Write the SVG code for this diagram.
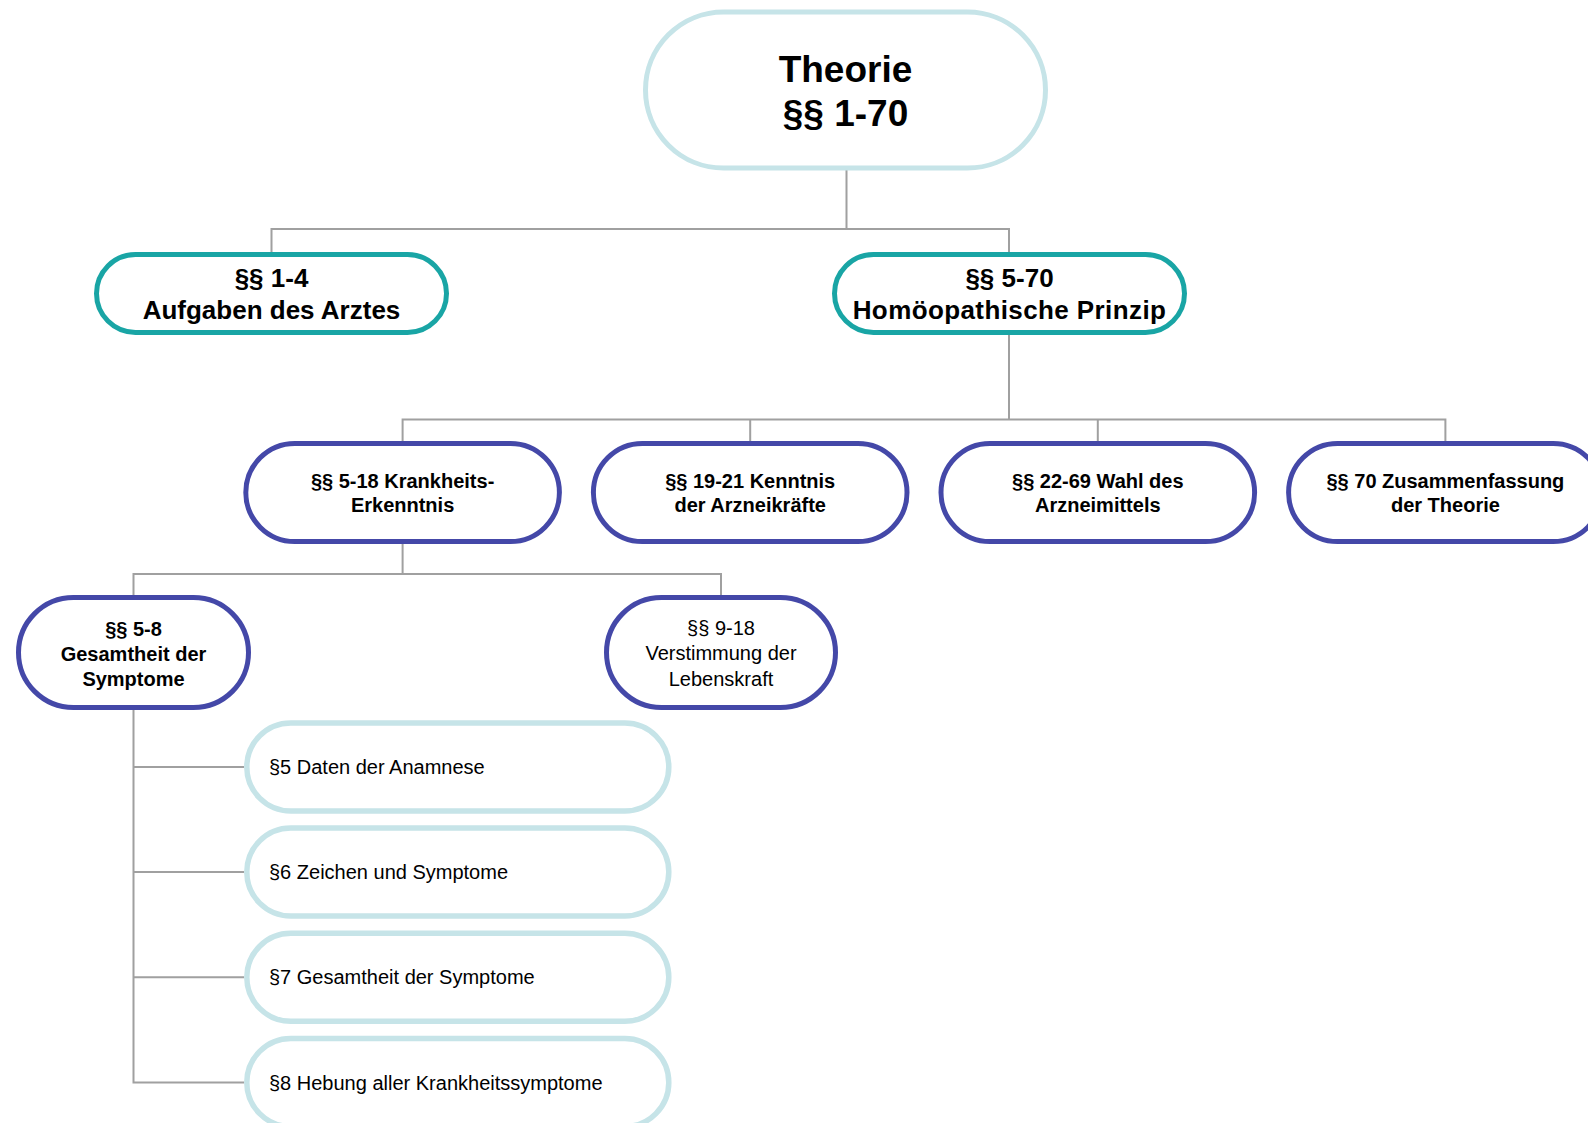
<svg xmlns="http://www.w3.org/2000/svg" width="1588" height="1123" viewBox="0 0 1588 1123">
<style>
text{font-family:"Liberation Sans",Arial,sans-serif;fill:#000;text-anchor:middle}
.b{font-weight:bold}
.root{fill:#fff;stroke:#c6e4e8;stroke-width:5}
.l2{fill:#fff;stroke:#19a5a5;stroke-width:5}
.l3{fill:#fff;stroke:#4448a8;stroke-width:5}
.leaf{fill:#fff;stroke:#c6e4e8;stroke-width:5.5}
.t37{font-size:37px}
.t26{font-size:26px}
.t20{font-size:20px}
.lt{text-anchor:start;font-size:20px}
.c{fill:none;stroke:#a0a0a0;stroke-width:2}
</style>
<rect width="1588" height="1123" fill="#fff"/>
<g id="connectors">
<path class="c" d="M846.5 170V229M271.5 252V229H1009V252"/>
<path class="c" d="M1009 335V419.5M402.6 441V419.5H1445.4V441M750.2 419.5V441M1097.8 419.5V441"/>
<path class="c" d="M402.6 544V574M133.5 595V574H721V595"/>
<path class="c" d="M133.5 710V1082.5H244M133.5 767H244M133.5 872H244M133.5 977.3H244"/>
</g>
<g id="n-root">
<rect class="root" x="645.5" y="12" width="400" height="156" rx="78"/>
<text class="b t37" x="845.5" y="82">Theorie</text>
<text class="b t37" x="845.5" y="125.5">§§ 1-70</text>
</g>
<g id="n-1-4">
<rect class="l2" x="96.5" y="254.5" width="350" height="78" rx="39"/>
<text class="b t26" x="271.5" y="287">§§ 1-4</text>
<text class="b t26" x="271.5" y="319">Aufgaben des Arztes</text>
</g>
<g id="n-5-70">
<rect class="l2" x="834.5" y="254.5" width="350" height="78" rx="39"/>
<text class="b t26" x="1009.5" y="287">§§ 5-70</text>
<text class="b t26" x="1009.5" y="318.5" letter-spacing="0.4">Homöopathische Prinzip</text>
</g>
<g id="n-5-18">
<rect class="l3" x="245.8" y="443.5" width="313.6" height="98" rx="49"/>
<text class="b t20" x="402.6" y="487.5">§§ 5-18 Krankheits-</text>
<text class="b t20" x="402.6" y="511.5">Erkenntnis</text>
</g>
<g id="n-19-21">
<rect class="l3" x="593.4" y="443.5" width="313.6" height="98" rx="49"/>
<text class="b t20" x="750.2" y="487.5">§§ 19-21 Kenntnis</text>
<text class="b t20" x="750.2" y="511.5">der Arzneikräfte</text>
</g>
<g id="n-22-69">
<rect class="l3" x="941" y="443.5" width="313.6" height="98" rx="49"/>
<text class="b t20" x="1097.8" y="487.5">§§ 22-69 Wahl des</text>
<text class="b t20" x="1097.8" y="511.5">Arzneimittels</text>
</g>
<g id="n-70">
<rect class="l3" x="1288.6" y="443.5" width="313.6" height="98" rx="49"/>
<text class="b t20" x="1445.4" y="487.5">§§ 70 Zusammenfassung</text>
<text class="b t20" x="1445.4" y="511.5">der Theorie</text>
</g>
<g id="n-5-8">
<rect class="l3" x="18.5" y="597.5" width="230" height="110" rx="55"/>
<text class="b t20" x="133.5" y="635.5">§§ 5-8</text>
<text class="b t20" x="133.5" y="660.5">Gesamtheit der</text>
<text class="b t20" x="133.5" y="685.5">Symptome</text>
</g>
<g id="n-9-18">
<rect class="l3" x="606.5" y="597.5" width="229" height="110" rx="55"/>
<text class="t20" x="721" y="635">§§ 9-18</text>
<text class="t20" x="721" y="660">Verstimmung der</text>
<text class="t20" x="721" y="685.5">Lebenskraft</text>
</g>
<g id="n-5">
<rect class="leaf" x="246.8" y="723" width="422" height="88" rx="44"/>
<text class="lt" x="269" y="774">§5 Daten der Anamnese</text>
</g>
<g id="n-6">
<rect class="leaf" x="246.8" y="828" width="422" height="88" rx="44"/>
<text class="lt" x="269" y="879">§6 Zeichen und Symptome</text>
</g>
<g id="n-7">
<rect class="leaf" x="246.8" y="933.3" width="422" height="88" rx="44"/>
<text class="lt" x="269" y="984.3">§7 Gesamtheit der Symptome</text>
</g>
<g id="n-8">
<rect class="leaf" x="246.8" y="1038.5" width="422" height="88" rx="44"/>
<text class="lt" x="269" y="1089.5">§8 Hebung aller Krankheitssymptome</text>
</g>
</svg>
